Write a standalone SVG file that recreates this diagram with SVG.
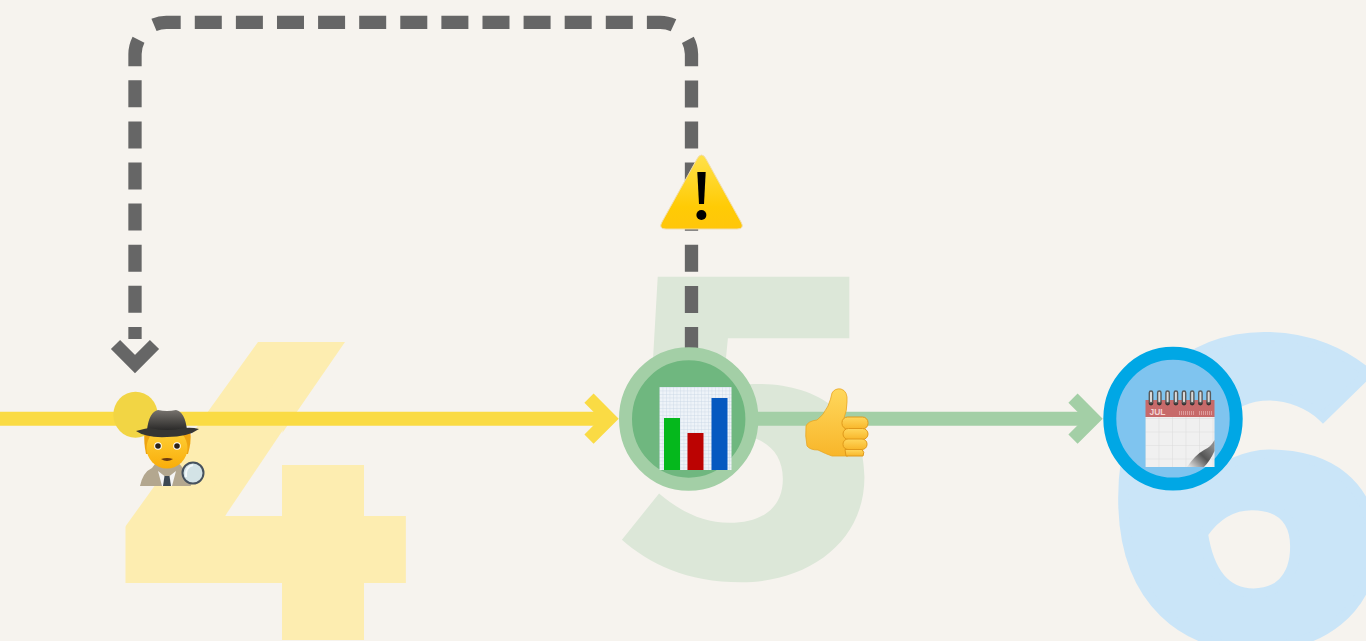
<svg xmlns="http://www.w3.org/2000/svg" width="1366" height="641" viewBox="0 0 1366 641">
<style>
.digit{font-family:"Noto Sans CJK JP","Noto Sans",sans-serif;font-weight:900;font-size:413px}
.line{fill:none;stroke-width:14}
.head{fill:none;stroke-width:13;stroke-miterlimit:4}
.outer{stroke-width:13}
.ring{fill:#d9d9d9;stroke:#5a5a5a;stroke-width:1.400}
.hole{fill:#333333}
</style>
<defs>
<clipPath id="open4"><path d="M258 342H345L225 516H282V465H364V516H408V583H364V640H282V583H125V527Z"/></clipPath>
<linearGradient id="warn" x1="0" y1="0" x2="0" y2="1"><stop offset="0" stop-color="#ffe14a"/><stop offset="0.7" stop-color="#ffcb05"/><stop offset="1" stop-color="#ffc60a"/></linearGradient>
<linearGradient id="hat" x1="0" y1="0" x2="0" y2="1"><stop offset="0" stop-color="#77736e"/><stop offset="1" stop-color="#2b2a29"/></linearGradient>
<linearGradient id="face" x1="0" y1="0" x2="0" y2="1"><stop offset="0" stop-color="#ffd33c"/><stop offset="1" stop-color="#f9ad0a"/></linearGradient>
<linearGradient id="thumb" x1="0" y1="0" x2="0" y2="1"><stop offset="0" stop-color="#ffd75c"/><stop offset="1" stop-color="#f8b62a"/></linearGradient>
<linearGradient id="curl" x1="0.1" y1="1" x2="0.9" y2="0.2"><stop offset="0" stop-color="#e0e0e0"/><stop offset="0.55" stop-color="#555555"/><stop offset="1" stop-color="#8a8a8a"/></linearGradient>
<pattern id="grid" width="3.500" height="3.500" patternUnits="userSpaceOnUse" x="659" y="387"><rect width="3.500" height="3.500" fill="#eef3f8"/><path d="M0 0H3.500M0 0V3.500" stroke="#c9d5e6" stroke-width="0.800" fill="none"/></pattern>
<pattern id="calgrid" width="13.500" height="13.500" patternUnits="userSpaceOnUse" x="1145" y="418"><rect width="13.500" height="13.500" fill="#f0f0f0"/><path d="M0 0H13.500M0 0V13.500" stroke="#dcdcdc" stroke-width="1" fill="none"/></pattern>
</defs>
<rect width="1366" height="641" fill="#f6f3ee"/>
<g id="digits">
<g clip-path="url(#open4)">
<text class="digit" transform="translate(114.500 668) scale(1.210 1.218)" fill="#fdedb0">4</text>
</g>
<path d="M281 372H322L225 516H196Z" fill="#fdedb0"/>
<text class="digit" transform="translate(610.500 576.500) scale(1.110 1)" fill="#dce7d8">5</text>
<text class="digit" transform="translate(1101.500 642) scale(1.153 1)" fill="#cae5f8" stroke="#cae5f8" stroke-width="9">6</text>
</g>
<g id="connectors">
<path class="line" stroke="#fadb44" d="M0 418.700H610"/>
<path class="head" stroke="#fadb44" d="M589 398.200L609.500 418.700L589 439.200"/>
<path class="line" stroke="#a3cfa6" d="M755 418.700H1094"/>
<path class="head" stroke="#a3cfa6" d="M1073 398.200L1093.500 418.700L1073 439.200"/>
<path fill="none" stroke="#666666" stroke-width="13.300" stroke-dasharray="27 14.100" d="M691.500 354V54A32 32 0 0 0 687.700 39.500M673.500 25.200A32 32 0 0 0 659.500 22.300H167A32 32 0 0 0 153.500 25M138.500 39.700A32 32 0 0 0 135 54V339"/>
<path class="head" stroke="#666666" d="M115.500 344.500L135 364L154.500 344.500"/>
</g>
<g id="node-start">
<ellipse cx="135.500" cy="414.700" rx="22.200" ry="23" fill="#f2d544"/>
<g id="detective">
<path d="M140 486Q143 472 152 468L158 460H176L182 467Q188 472 191 486Z" fill="#b3a78f"/>
<path d="M158 471L167 478L176 471L172 486H162Z" fill="#f5f5f5"/>
<path d="M164.500 476H169.500L171 486H163Z" fill="#3d4852"/>
<path d="M144.500 432H190.500Q191.500 442 188 454H146Q143.500 442 144.500 432Z" fill="#eea411"/>
<ellipse cx="167" cy="448" rx="20.500" ry="20.500" fill="url(#face)"/>
<circle cx="158" cy="446" r="3.800" fill="#fff"/><circle cx="158" cy="446" r="2.800" fill="#2b2118"/>
<circle cx="177" cy="446" r="3.800" fill="#fff"/><circle cx="177" cy="446" r="2.800" fill="#2b2118"/>
<path d="M161 459Q167 457 173 459Q167 463 161 459Z" fill="#6b3b10"/>
<path d="M147 430Q149 412 158 410Q167 412 176 410Q185 412 187 430Z" fill="url(#hat)"/>
<path d="M136 431Q147 428 150 428Q167 432 184 428Q192 427 199 429Q188 437 167 437Q146 438 136 431Z" fill="#363533"/>
<circle cx="193" cy="473" r="10.500" fill="#d3e3e6" stroke="#46525e" stroke-width="2"/>
<path d="M186 477Q185 467 193 465" stroke="#f2f8fa" stroke-width="2" fill="none"/>
</g>
</g>
<g id="node-report">
<ellipse cx="688.700" cy="419" rx="63.200" ry="65.200" fill="#6fb77f" stroke="#a3cfa6" class="outer"/>
<g id="chart">
<rect x="659.500" y="387" width="72" height="83" fill="url(#grid)"/>
<rect x="664" y="418" width="16" height="52" fill="#05b81c"/>
<rect x="687.500" y="433" width="16" height="37" fill="#bb0302"/>
<rect x="711.500" y="398" width="16" height="72" fill="#0659c0"/>
</g>
</g>
<g id="node-calendar">
<ellipse cx="1173" cy="418.700" rx="63.200" ry="65.400" fill="#7fc4ef" stroke="#00a7e5" class="outer"/>
<g id="calendar">
<rect x="1145.500" y="417" width="69" height="50" fill="url(#calgrid)"/>
<path d="M1187 467Q1195 455 1204 450Q1211 447 1214.500 440V451Q1210 461 1204 467Z" fill="url(#curl)"/>
<rect x="1145.500" y="400" width="69" height="17" fill="#c76a6a"/>
<text x="1149.500" y="415" font-family="'Liberation Sans',sans-serif" font-size="8.500" font-weight="700" fill="#f3d3d3">JUL</text>
<path d="M1179 413H1194M1199 413H1212" stroke="#dd9c9c" stroke-width="4" stroke-dasharray="1 1" fill="none"/>
<circle class="hole" cx="1151" cy="403" r="2.400"/><circle class="hole" cx="1159.300" cy="403" r="2.400"/><circle class="hole" cx="1167.600" cy="403" r="2.400"/><circle class="hole" cx="1175.900" cy="403" r="2.400"/><circle class="hole" cx="1184" cy="403" r="2.400"/><circle class="hole" cx="1192.200" cy="403" r="2.400"/><circle class="hole" cx="1200.400" cy="403" r="2.400"/><circle class="hole" cx="1208.700" cy="403" r="2.400"/>
<rect class="ring" x="1149.300" y="391" width="3.400" height="12" rx="1.700"/><rect class="ring" x="1157.600" y="391" width="3.400" height="12" rx="1.700"/><rect class="ring" x="1165.900" y="391" width="3.400" height="12" rx="1.700"/><rect class="ring" x="1174.200" y="391" width="3.400" height="12" rx="1.700"/><rect class="ring" x="1182.300" y="391" width="3.400" height="12" rx="1.700"/><rect class="ring" x="1190.500" y="391" width="3.400" height="12" rx="1.700"/><rect class="ring" x="1198.700" y="391" width="3.400" height="12" rx="1.700"/><rect class="ring" x="1207" y="391" width="3.400" height="12" rx="1.700"/>
</g>
</g>
<g id="thumbs-up">
<path d="M806 426Q808 421 817 420Q823 416 828 406Q831 399 832 393Q835 388 841 389Q848 391 847 402Q847 411 844 418L848 456H832Q826 454 818 450Q810 450 807 446Q805 436 806 426Z" fill="url(#thumb)" stroke="#e9a622" stroke-width="0.800"/>
<g fill="url(#thumb)" stroke="#e0991a" stroke-width="1">
<rect x="842" y="417" width="26" height="12" rx="5.500"/>
<rect x="843" y="428.500" width="25" height="11" rx="5.500"/>
<rect x="843" y="439" width="24" height="10.500" rx="5"/>
<path d="M845 449.500H862Q865 452 863 456H846Z"/>
</g>
</g>
<g id="warning">
<path d="M701.500 155Q704 155 706 159L741 222Q745 229 737 229H666Q658 229 662 222L697 159Q699 155 701.500 155Z" fill="url(#warn)" stroke="#f2ddaa" stroke-width="1"/>
<path d="M697.300 172H705.700L704 204H699Z" fill="#000"/>
<circle cx="701.400" cy="215" r="5" fill="#000"/>
</g>
</svg>
